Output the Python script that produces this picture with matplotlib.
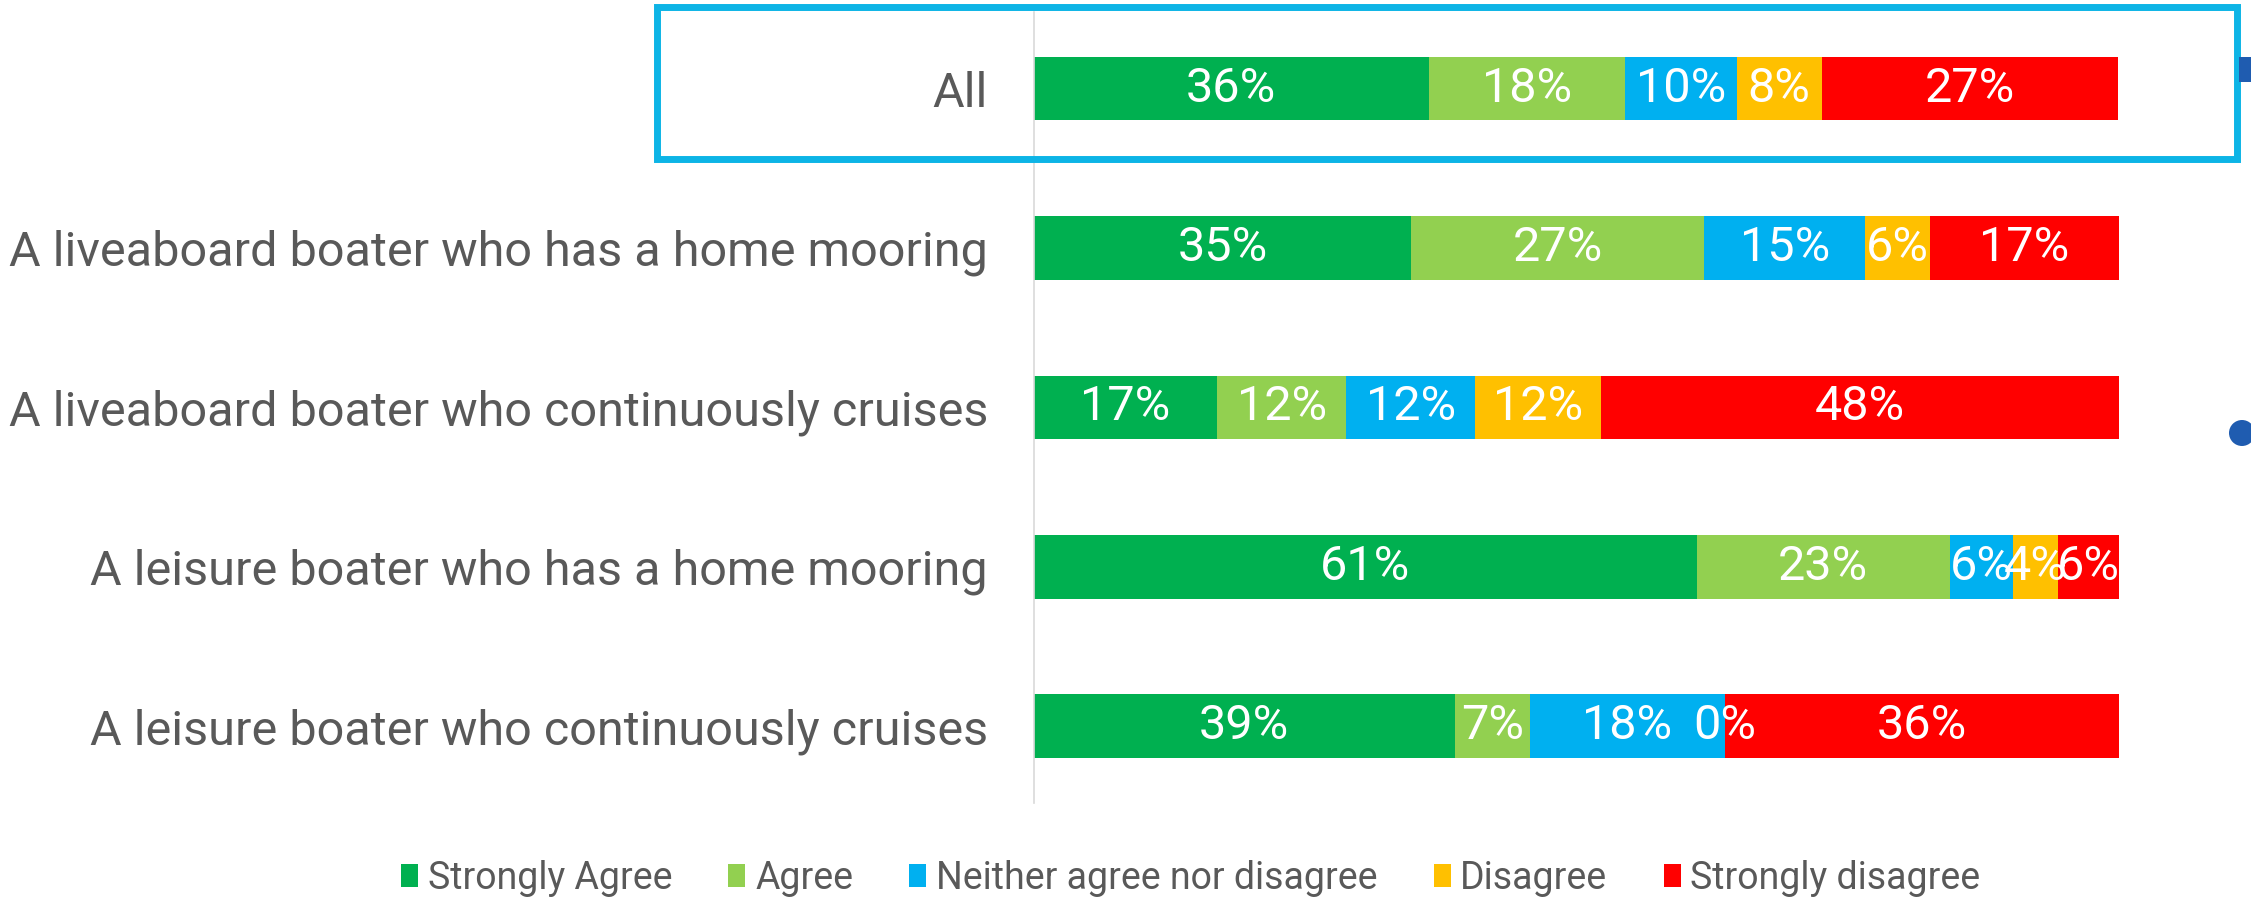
import matplotlib.pyplot as plt
from matplotlib.patches import Patch, Rectangle, Ellipse

plt.rcParams['font.family'] = ['Roboto', 'DejaVu Sans']

# Survey groups (top to bottom)
groups = [
    'All',
    'A liveaboard boater who has a home mooring',
    'A liveaboard boater who continuously cruises',
    'A leisure boater who has a home mooring',
    'A leisure boater who continuously cruises',
]

responses = ['Strongly Agree', 'Agree', 'Neither agree nor disagree',
             'Disagree', 'Strongly disagree']
colors = ['#00B050', '#92D050', '#00B0F0', '#FFC000', '#FF0000']

# Share of respondents (%) per response, one list per response
strongly_agree = [36.4, 34.8, 16.9, 61.1, 38.8]
agree = [18.1, 27.0, 11.9, 23.3, 6.9]
neither = [10.3, 14.8, 11.9, 5.8, 18.0]
disagree = [7.8, 6.0, 11.6, 4.2, 0.0]
strongly_disagree = [27.3, 17.4, 47.7, 5.6, 36.3]

series = [strongly_agree, agree, neither, disagree, strongly_disagree]

label_color = '#595959'

fig = plt.figure(figsize=(22.51, 8.98), dpi=100)
ax = fig.add_axes([0.4593, 0.106, 0.482, 0.8806])

ypos = list(range(len(groups)))
left = [0.0] * len(groups)
for vals, col in zip(series, colors):
    ax.barh(ypos, vals, left=left, height=0.40, color=col)
    for y, v, l in zip(ypos, vals, left):
        ax.text(l + v / 2, y, f'{round(v)}%', ha='center', va='center',
                color='white', fontsize=35)
    left = [a + b for a, b in zip(left, vals)]

ax.set_xlim(0, 100)
ax.set_ylim(4.48, -0.48)
ax.set_yticks(ypos)
ax.set_yticklabels(groups, fontsize=35, color=label_color)
ax.tick_params(axis='y', length=0, pad=33)
ax.set_xticks([])
for s in ['top', 'right', 'bottom']:
    ax.spines[s].set_visible(False)
ax.spines['left'].set_color('#d9d9d9')
ax.spines['left'].set_linewidth(1.2)

# highlight box round the "All" row
fig.patches.append(Rectangle((0.2919, 0.823), 0.7019, 0.169, transform=fig.transFigure,
                             fill=False, edgecolor='#0DB4E6', linewidth=5))
# cropped markers at the right edge
fig.patches.append(Rectangle((0.9946, 1 - 82 / 898), 0.01, 25 / 898, transform=fig.transFigure,
                             color='#1F5CB0', linewidth=0))
fig.patches.append(Ellipse((2242 / 2251, 1 - 433 / 898), 26 / 2251, 26 / 898,
                           transform=fig.transFigure, color='#1F5CB0', linewidth=0))

handles = [Patch(facecolor=c, edgecolor='none') for c in colors]
fig.legend(handles, responses, loc='center', bbox_to_anchor=(0.529, 0.022), ncol=5,
           frameon=False, fontsize=27, handlelength=0.45, handleheight=0.6,
           handletextpad=0.26, columnspacing=1.5, labelcolor=label_color)

fig.savefig('out.png', dpi=100)
